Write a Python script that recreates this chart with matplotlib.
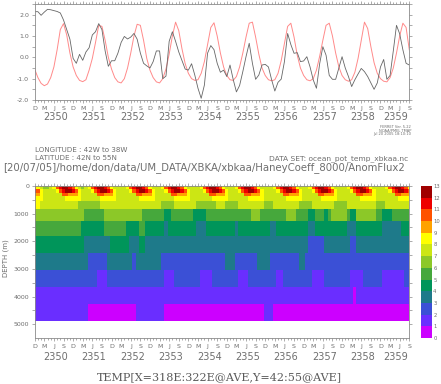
import numpy as np
import matplotlib.pyplot as plt
import matplotlib.cm as cm
from matplotlib.colors import ListedColormap, BoundaryNorm
from matplotlib.transforms import blended_transform_factory

# ---- data ----
months = np.arange(118)          # month index, 0 = Dec 2349
month_letters = ['D', 'M', 'J', 'S']
years = np.arange(2350, 2360)

# upper panel: anomaly series (black) and seasonal cycle (red)
black_line = [2.14, 2.14, 1.97, 2.12, 2.25, 2.23, 2.19, 2.15, 2.08, 1.75, 1.3, 0.85,
              -0.05, -0.28, 0.14, -0.14, 0.25, 0.45, 1.05, 1.2, 1.58, 1.3, 0.3, -0.42,
              -0.16, -0.16, 0.2, 0.7, 0.98, 0.86, 0.95, 1.12, 0.85, 0.2, -0.28, -0.4,
              -0.5, -0.2, 0.3, 0.3, -1.0, -0.88, 0.75, 1.2, 0.75, 0.25, -0.15, -0.55,
              -0.6, -0.3, -0.83, -1.45, -1.92, -1.3, 0.2, 0.55, 0.36, -0.28, -0.7, -0.6,
              -0.9, -0.36, -1.04, -1.62, -1.32, -0.67, 0.03, 0.66, -0.28, -1.03, -0.83, -0.36,
              -0.33, -0.45, -1.05, -1.58, -1.17, -1.02, -0.2, 1.12, 0.6, 0.19, 0.22, -0.2,
              -0.17, 0.03, -0.45, -1.06, -1.45, -0.3, 0.5, 0.1, -0.85, -1.03, -1.03, -0.5,
              0.03, -0.5, -0.9, -1.37, -1.05, -0.78, -0.52, -0.67, -0.9, -1.2, -1.5, -1.2,
              -0.45, -0.1, -1.03, -0.85, 0.3, 1.5, 1.1, 0.35, -0.28, -0.36]
red_line = [-0.56, -0.95, -1.22, -1.33, -1.25, -0.95, -0.45, 0.35, 1.3, 1.58, 1.05, 0.2,
            -0.45, -0.85, -1.08, -1.14, -1.05, -0.6, -0.05, 0.7, 1.5, 1.45, 0.8, 0.0,
            -0.55, -0.95, -1.15, -1.2, -1.0, -0.5, 0.2, 1.0, 1.55, 1.5, 0.8, -0.05,
            -0.6, -0.95, -1.15, -1.2, -1.0, -0.55, 0.15, 1.0, 1.65, 1.25, 0.4, -0.3,
            -0.75, -1.0, -1.08, -1.05, -0.75, -0.2, 0.6, 1.4, 1.62, 1.0, 0.2, -0.45,
            -0.85, -1.05, -1.08, -0.9, -0.45, 0.2, 0.95, 1.6, 1.65, 0.95, 0.15, -0.5,
            -0.85, -1.05, -1.1, -1.05, -0.75, -0.15, 0.65, 1.45, 1.6, 0.95, 0.1, -0.5,
            -0.85, -1.05, -1.1, -1.0, -0.6, 0.05, 0.8, 1.5, 1.6, 1.0, 0.2, -0.45,
            -0.85, -1.05, -1.12, -1.05, -0.7, -0.05, 0.8, 1.65, 1.35, 0.5, -0.25, -0.75,
            -1.0, -1.12, -1.15, -0.95, -0.5, 0.2, 1.0, 1.6, 1.4, 0.35]

# lower panel: model depth levels (m)
depth = [5, 15, 25, 35, 48, 67, 96, 139, 204, 301,
         447, 666, 996, 1501, 2116, 2731, 3347, 3962, 4577, 5192]

# temperature class per month, levels 0-117 m
temp_top = [10, 8, 7, 6, 6, 7, 8, 10, 11, 12, 12, 11,
            10, 8, 7, 6, 7, 8, 10, 11, 12, 12, 11, 10,
            8, 7, 7, 7, 7, 8, 10, 11, 12, 12, 11, 10,
            8, 7, 7, 7, 8, 10, 11, 12, 12, 11, 10, 8,
            7, 7, 7, 7, 8, 10, 11, 12, 12, 11, 10, 8,
            7, 7, 7, 8, 10, 11, 12, 12, 11, 10, 8, 7,
            7, 7, 7, 8, 10, 11, 12, 12, 11, 10, 8, 7,
            7, 7, 8, 10, 11, 12, 12, 11, 10, 8, 7, 7,
            7, 7, 8, 10, 11, 12, 12, 11, 10, 8, 7, 7,
            7, 7, 8, 10, 11, 12, 12, 11, 10, 8]
# levels 117-252 m
temp_139_204 = [11, 10, 8, 7, 7, 7, 7, 8, 10, 11, 12, 12,
                11, 10, 8, 7, 7, 7, 8, 10, 11, 12, 12, 11,
                10, 8, 7, 7, 7, 7, 8, 10, 11, 12, 12, 11,
                10, 8, 7, 7, 7, 8, 10, 11, 12, 12, 11, 10,
                8, 7, 7, 7, 7, 8, 10, 11, 12, 12, 11, 10,
                8, 7, 7, 7, 8, 10, 11, 12, 12, 11, 10, 8,
                7, 7, 7, 7, 8, 10, 11, 12, 12, 11, 10, 8,
                7, 7, 7, 8, 10, 11, 12, 12, 11, 10, 8, 7,
                7, 7, 7, 8, 10, 11, 12, 12, 11, 10, 8, 7,
                7, 7, 7, 8, 10, 11, 12, 12, 11, 10]
# level 252-374 m
temp_301 = [9, 9, 8, 7, 7, 7, 7, 7, 7, 10, 10, 9,
            9, 9, 8, 7, 7, 7, 7, 7, 10, 10, 9, 9,
            9, 8, 7, 7, 7, 7, 7, 7, 10, 10, 9, 9,
            9, 8, 7, 7, 7, 7, 7, 10, 10, 9, 9, 9,
            8, 7, 7, 7, 7, 7, 7, 10, 10, 9, 9, 9,
            8, 7, 7, 7, 7, 7, 10, 10, 9, 9, 9, 8,
            7, 7, 7, 7, 7, 7, 10, 10, 9, 9, 9, 8,
            7, 7, 7, 7, 7, 10, 10, 9, 9, 9, 8, 7,
            7, 7, 7, 7, 7, 10, 10, 9, 9, 9, 8, 7,
            7, 7, 7, 7, 7, 10, 10, 9, 9, 9]
# deeper levels as (class, number of months) runs
temp_447 = [(8, 3), (7, 7), (8, 5), (7, 6), (8, 5), (7, 7), (8, 5), (7, 6), (8, 5), (7, 7), (8, 5),
            (7, 6), (8, 5), (7, 7), (8, 5), (7, 6), (8, 5), (7, 7), (8, 5), (7, 7), (8, 4)]
temp_666 = [(8, 2), (7, 12), (6, 7), (7, 19), (6, 4), (7, 7), (6, 6), (7, 3), (6, 4), (7, 8),
            (6, 3), (7, 8), (6, 4), (7, 7), (6, 4), (7, 9), (6, 3), (7, 8)]
temp_996 = [(6, 16), (5, 6), (6, 12), (5, 7), (4, 2), (5, 7), (4, 4), (5, 14), (6, 3), (5, 8),
            (6, 3), (5, 4), (4, 2), (5, 3), (4, 1), (5, 1), (6, 5), (5, 1), (4, 2), (6, 6),
            (5, 2), (4, 3), (5, 6)]
temp_1501 = [(5, 15), (4, 7), (5, 7), (4, 4), (5, 2), (4, 6), (3, 1), (4, 9), (3, 3), (4, 9),
             (3, 1), (4, 10), (3, 2), (4, 10), (3, 2), (4, 10), (3, 3), (4, 8), (3, 6), (4, 3)]
temp_2116 = [(4, 16), (3, 8), (4, 6), (3, 3), (4, 2), (3, 51), (2, 5), (3, 8), (2, 2), (3, 17)]
temp_2731 = [(3, 17), (2, 6), (3, 8), (2, 1), (3, 8), (2, 20), (3, 3), (2, 7), (3, 4), (2, 9),
             (3, 2), (2, 33)]
temp_3347 = [(2, 20), (1, 3), (2, 18), (1, 3), (2, 8), (1, 4), (2, 8), (1, 3), (2, 9), (1, 2),
             (2, 9), (1, 4), (2, 8), (1, 4), (2, 6), (1, 7), (2, 2)]
temp_3962 = [(1, 100), (0, 1), (1, 17)]
temp_4577 = [(1, 17), (0, 15), (1, 9), (0, 31), (1, 3), (0, 43)]

level_colors = ['#cc00ff', '#6a2eff', '#3b50d6', '#1e7a8a', '#00955a', '#46a83c', '#8cc828',
                '#cce614', '#ffff00', '#ffa200', '#ff5200', '#ee0000', '#a00000']


def runs(segs):
    return np.repeat([v for v, n in segs], [n for v, n in segs]).astype(float)


rows = ([np.array(temp_top, float)] * 7 + [np.array(temp_139_204, float)] * 2 +
        [np.array(temp_301, float), runs(temp_447), runs(temp_666), runs(temp_996),
         runs(temp_1501), runs(temp_2116), runs(temp_2731), runs(temp_3347),
         runs(temp_3962), runs(temp_4577), np.full(len(months), np.nan)])
grid = np.vstack(rows)

d = np.array(depth, float)
depth_edges = np.concatenate([[0], (d[:-1] + d[1:]) / 2, [5500]])
time_edges = np.concatenate([months - 0.5, [months[-1] + 0.5]])

# ---- figure ----
W, H = 441, 384
frame_col = '#8a8a8a'
text_col = '#6e6e6e'


def fx(px):
    return px / W


def fy(py):
    return 1 - py / H


fig = plt.figure(figsize=(W / 100, H / 100), dpi=100)


def time_axis(ax, year_y):
    for s in ax.spines.values():
        s.set_color(frame_col)
        s.set_linewidth(0.6)
    ax.tick_params(which='both', direction='out', colors=frame_col, width=0.5,
                   top=True, right=True, labelsize=4.5, labelcolor=text_col, pad=1.5)
    ax.tick_params(which='major', length=2.5)
    ax.tick_params(which='minor', length=1.3)
    ax.set_xticks(months[::3])
    ax.set_xticklabels([month_letters[i % 4] for i in range(len(months[::3]))])
    ax.set_xticks(months, minor=True)
    ax.set_xlim(0, 117)
    tr = blended_transform_factory(ax.transData, ax.transAxes)
    for i, yr in enumerate(years):
        a = max(0, 12 * i + 0.5)
        b = min(117, 12 * i + 12.5)
        ax.text((a + b) / 2, year_y, str(yr), transform=tr, ha='center', va='center',
                fontsize=7, color=text_col)


# top panel
ax1 = fig.add_axes([fx(34.7), fy(100), (409.3 - 34.7) / W, 96 / H])
ax1.plot(months, red_line, color='#ff8a8a', lw=0.7)
ax1.plot(months, black_line, color='#666666', lw=0.6)
ax1.set_ylim(-2, 2.5)
ax1.set_yticks(np.arange(-2, 2.51, 0.5))
ax1.set_yticklabels(['%.1f' % v if v == int(v) else '' for v in np.arange(-2, 2.51, 0.5)])
time_axis(ax1, -16.7 / 96)

# bottom panel
cmap = ListedColormap(level_colors)
norm = BoundaryNorm(np.arange(14), cmap.N)
ax2 = fig.add_axes([fx(34.7), fy(338), (409.3 - 34.7) / W, 152 / H])
ax2.pcolormesh(time_edges, depth_edges, grid, cmap=cmap, norm=norm, shading='flat',
               antialiased=False, linewidth=0)
ax2.set_ylim(5500, 0)
ax2.set_yticks(np.arange(0, 5001, 500))
ax2.set_yticklabels([str(v) if v % 1000 == 0 else '' for v in range(0, 5001, 500)])
time_axis(ax2, -19.3 / 152)

# colour key
cax = fig.add_axes([fx(421), fy(338), 10.5 / W, 152 / H])
cb = fig.colorbar(cm.ScalarMappable(norm=norm, cmap=cmap), cax=cax, ticks=np.arange(14))
cb.outline.set_visible(False)
cax.tick_params(length=0, labelsize=3.8, labelcolor=text_col, pad=1.2)

# texts
fig.text(fx(411), fy(127.5), 'FERRET Ver. 5.22', ha='right', va='center', fontsize=2.6, color=text_col)
fig.text(fx(411), fy(130.5), 'NOAA/PMEL TMAP', ha='right', va='center', fontsize=2.6, color=text_col)
fig.text(fx(411), fy(133.5), 'Jul 20 2005 18:10:10', ha='right', va='center', fontsize=2.6, color=text_col)
fig.text(fx(35), fy(150), 'LONGITUDE : 42W to 38W', va='center', fontsize=5.1, color=text_col)
fig.text(fx(35), fy(157.7), 'LATITUDE : 42N to 55N', va='center', fontsize=5.1, color=text_col)
fig.text(fx(408), fy(158.3), 'DATA SET: ocean_pot_temp_xbkaa.nc', ha='right', va='center',
         fontsize=5.4, color=text_col)
fig.text(fx(3), fy(167.5), '[20/07/05]/home/don/data/UM_DATA/XBKA/xbkaa/HaneyCoeff_8000/AnomFlux2',
         va='center', fontsize=7.3, color=text_col)
fig.text(fx(6), fy(258), 'DEPTH (m)', rotation=90, ha='center', va='center', fontsize=5, color=text_col)
fig.text(fx(219), fy(377.3), 'TEMP[X=318E:322E@AVE,Y=42:55@AVE]', ha='center', va='center',
         family='DejaVu Serif', fontsize=8, color='#5a5a5a')

fig.savefig('out.png', dpi=100)
